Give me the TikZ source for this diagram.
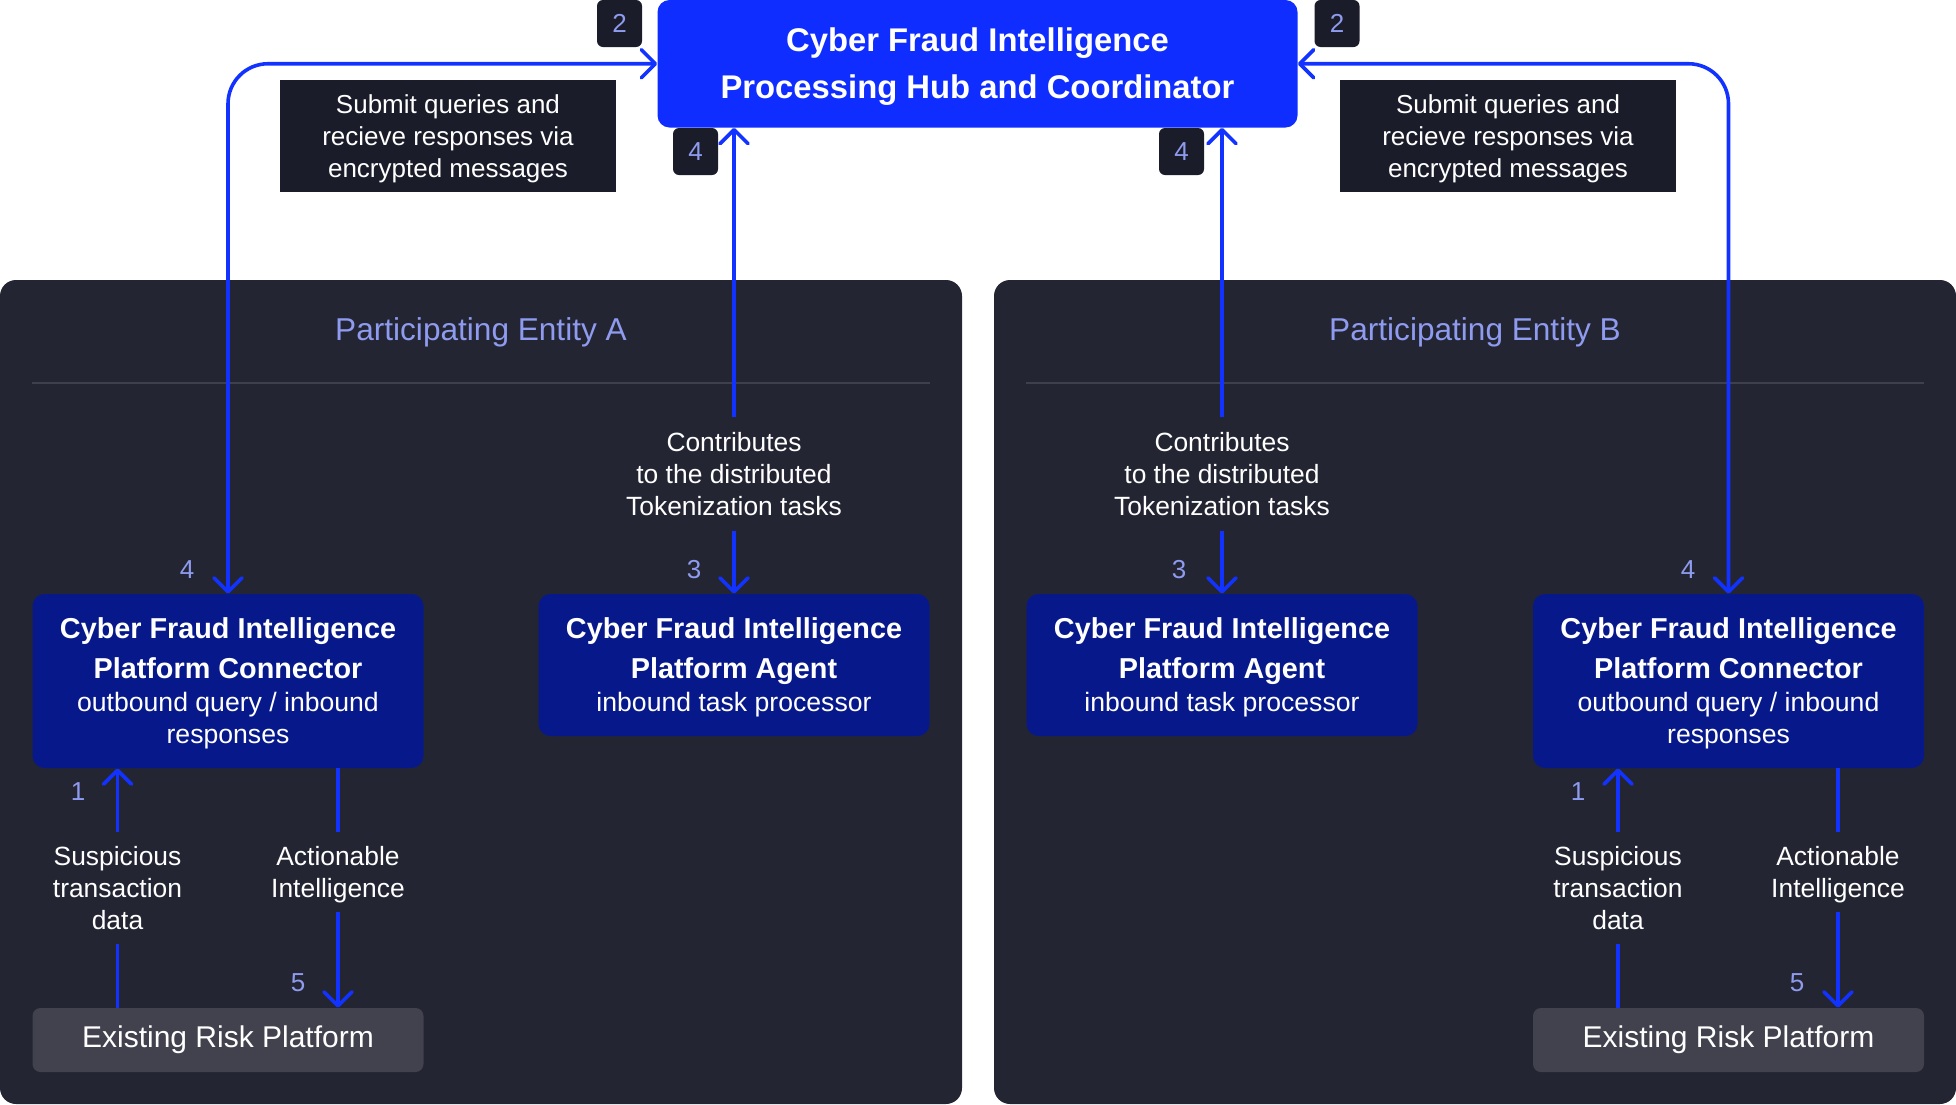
\documentclass[tikz,border=0pt]{standalone}
\usepackage{fontspec}
\setmainfont{Liberation Sans}
\usetikzlibrary{arrows.meta}

\definecolor{hubblue}{HTML}{0F2DFF}
\definecolor{navybox}{HTML}{07198A}
\definecolor{panelbg}{HTML}{232533}
\definecolor{inkbox}{HTML}{1A1C29}
\definecolor{riskgray}{HTML}{41424E}
\definecolor{sepgray}{HTML}{3E404D}
\definecolor{lilac}{HTML}{8E9BEF}
\definecolor{flowblue}{HTML}{1232FF}

\newcommand{\unitttl}[1]{{\fontsize{14.4}{16}\selectfont\bfseries #1}}
\newcommand{\padtop}[1]{\rule{0pt}{#1}}

\begin{document}
\begin{tikzpicture}[x=0.5pt, y=-0.5pt,
	barb/.tip={Straight Barb[length=7pt,width=14pt,round]},
	flow/.style={draw=flowblue, line width=1.8pt},
	oneway/.style={-barb},
	twoway/.style={barb-barb},
	hubbox/.style={fill=hubblue, rounded corners=6pt, text=white, align=center, inner sep=0pt,
		minimum width=320pt, minimum height=63.75pt, font=\fontsize{16.4}{23.5}\selectfont\bfseries},
	unitbox/.style={fill=navybox, rounded corners=6pt, text=white, align=center, inner sep=0pt,
		minimum width=195.5pt, font=\fontsize{13.3}{16}\selectfont},
	riskbox/.style={fill=riskgray, rounded corners=4pt, text=white, inner sep=0pt,
		minimum width=195.5pt, minimum height=32pt, font=\fontsize{15}{18}\selectfont},
	notebox/.style={fill=inkbox, text=white, align=center, inner sep=0pt,
		minimum width=168pt, minimum height=56pt, font=\fontsize{13}{16}\selectfont},
	badge/.style={fill=inkbox, rounded corners=3pt, text=lilac, inner sep=0pt,
		minimum width=22.5pt, minimum height=23.5pt, font=\fontsize{13}{16}\selectfont},
	stepnum/.style={text=lilac, font=\fontsize{13}{16}\selectfont},
	flowtext/.style={text=white, align=center, inner sep=0pt, font=\fontsize{13.2}{16}\selectfont},
	paneltitle/.style={text=lilac, font=\fontsize{15.8}{19}\selectfont}]

	\useasboundingbox (0,0) rectangle (1956,1104);

	% entity panels
	\fill[panelbg, rounded corners=8pt] (0,280) rectangle (962,1104);
	\fill[panelbg, rounded corners=8pt] (994,280) rectangle (1956,1104);
	\draw[sepgray, line width=0.8pt] (32,383) -- (930,383);
	\draw[sepgray, line width=0.8pt] (1026,383) -- (1924,383);
	\node[paneltitle] (titA) at (481,332) {Participating Entity A};
	\node[paneltitle] (titB) at (1475,332) {Participating Entity B};

	% hub
	\node[hubbox] (hub) at (977.5,63.75) {\padtop{14.5pt}Cyber Fraud Intelligence\\Processing Hub and Coordinator};
	\node[notebox] (noteA) at (448,136) {\padtop{12pt}Submit queries and\\recieve responses via\\encrypted messages};
	\node[notebox] (noteB) at (1508,136) {\padtop{12pt}Submit queries and\\recieve responses via\\encrypted messages};
	\node[badge] (bA2) at (619.5,23.5) {2};
	\node[badge] (bB2) at (1337,23.5) {2};
	\node[badge] (bA4) at (695.5,151.5) {4};
	\node[badge] (bB4) at (1181.5,151.5) {4};

	% entity A
	\node[unitbox, minimum height=87pt] (conA) at (228,681)
		{\padtop{13pt}\unitttl{Cyber Fraud Intelligence}\\[4pt]\unitttl{Platform Connector}\\[0.5pt]outbound query / inbound\\responses};
	\node[unitbox, minimum height=71pt] (agA) at (734,665)
		{\padtop{13pt}\unitttl{Cyber Fraud Intelligence}\\[4pt]\unitttl{Platform Agent}\\[0.5pt]inbound task processor};
	\node[riskbox] (riskA) at (228,1040) {Existing Risk Platform};
	\node[flowtext, minimum height=56.5pt] (cntA) at (734,474) {Contributes\\to the distributed\\Tokenization tasks};
	\node[flowtext, minimum height=56pt] (susA) at (117.5,888) {Suspicious\\transaction\\data};
	\node[flowtext, minimum height=40pt] (actA) at (338,872) {\padtop{12pt}Actionable\\Intelligence};

	% entity B
	\node[unitbox, minimum height=71pt] (agB) at (1222,665)
		{\padtop{13pt}\unitttl{Cyber Fraud Intelligence}\\[4pt]\unitttl{Platform Agent}\\[0.5pt]inbound task processor};
	\node[unitbox, minimum height=87pt] (conB) at (1728.5,681)
		{\padtop{13pt}\unitttl{Cyber Fraud Intelligence}\\[4pt]\unitttl{Platform Connector}\\[0.5pt]outbound query / inbound\\responses};
	\node[riskbox] (riskB) at (1728.5,1040) {Existing Risk Platform};
	\node[flowtext, minimum height=56.5pt] (cntB) at (1222,474) {Contributes\\to the distributed\\Tokenization tasks};
	\node[flowtext, minimum height=56pt] (susB) at (1618,888) {Suspicious\\transaction\\data};
	\node[flowtext, minimum height=40pt] (actB) at (1838,872) {\padtop{12pt}Actionable\\Intelligence};

	% step numbers
	\node[stepnum] (nA4) at (187,570) {4};
	\node[stepnum] (nA3) at (694,570) {3};
	\node[stepnum] (nA1) at (78,792) {1};
	\node[stepnum] (nA5) at (298,983) {5};
	\node[stepnum] (nB3) at (1179,570) {3};
	\node[stepnum] (nB4) at (1688,570) {4};
	\node[stepnum] (nB1) at (1578,792) {1};
	\node[stepnum] (nB5) at (1797,983) {5};

	% hub links
	\draw[flow, twoway, rounded corners=20pt] (conA.north) |- (hub.west);
	\draw[flow, twoway, rounded corners=20pt] (conB.north) |- (hub.east);
	\draw[flow, oneway] (cntA) -- (cntA |- hub.south);
	\draw[flow, oneway] (cntA) -- (agA);
	\draw[flow, oneway] (cntB) -- (cntB |- hub.south);
	\draw[flow, oneway] (cntB) -- (agB);

	% risk platform links
	\draw[flow, oneway] (susA) -- (susA |- conA.south);
	\draw[flow] (susA) -- (susA |- riskA.north);
	\draw[flow] (actA) -- (actA |- conA.south);
	\draw[flow, oneway] (actA) -- (actA |- riskA.north);
	\draw[flow, oneway] (susB) -- (susB |- conB.south);
	\draw[flow] (susB) -- (susB |- riskB.north);
	\draw[flow] (actB) -- (actB |- conB.south);
	\draw[flow, oneway] (actB) -- (actB |- riskB.north);
\end{tikzpicture}
\end{document}
